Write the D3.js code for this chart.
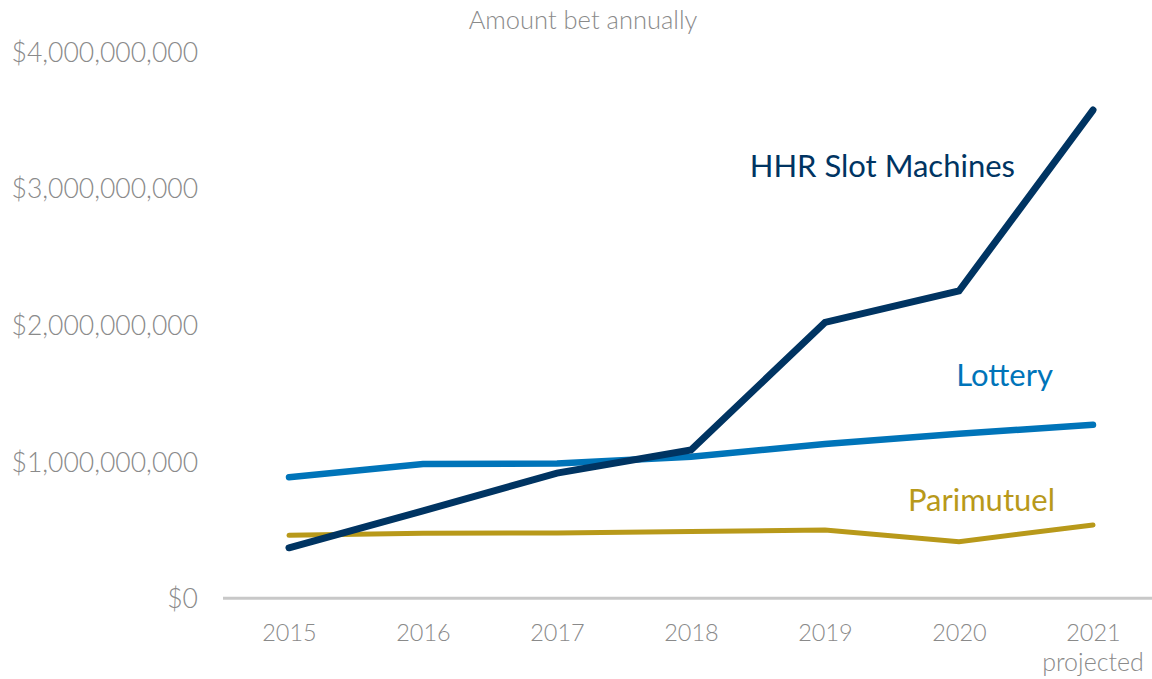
<!DOCTYPE html>
<html>
<head>
<meta charset="utf-8">
<script src="https://cdn.jsdelivr.net/npm/d3@7"></script>
<style>
  html, body { margin: 0; padding: 0; background: #fff; }
  svg text { font-family: "Lato", "Open Sans", sans-serif; font-weight: 300; }
  svg text.lbl { font-weight: 400; }
</style>
</head>
<body>
<div id="chart"></div>
<script>
// Données
const years = ["2015", "2016", "2017", "2018", "2019", "2020", "2021"];
const hhr = [0.37e9, 0.64e9, 0.917e9, 1.086e9, 2.02e9, 2.25e9, 3.575e9];
const lottery = [0.886e9, 0.983e9, 0.987e9, 1.037e9, 1.13e9, 1.205e9, 1.27e9];
const parimutuel = [0.461e9, 0.476e9, 0.478e9, 0.49e9, 0.5e9, 0.415e9, 0.536e9];
const yTicks = [0, 1e9, 2e9, 3e9, 4e9];

const series = [
  { name: "Parimutuel", values: parimutuel, color: "#b8991a", width: 5, lx: 1055, ly: 511 },
  { name: "Lottery", values: lottery, color: "#0074b9", width: 6.5, lx: 1053, ly: 386 },
  { name: "HHR Slot Machines", values: hhr, color: "#003462", width: 7, lx: 1015, ly: 177 }
];

const W = 1152, H = 679;
const svg = d3.select("#chart").append("svg")
  .attr("width", W).attr("height", H);

const x = d3.scalePoint().domain(years).range([289, 1093]);
const y = d3.scaleLinear().domain([0, 4e9]).range([598.3, 52]);

// axe Y (texte seulement)
const yAxis = svg.append("g")
  .attr("transform", "translate(198,0)")
  .call(d3.axisLeft(y).tickValues(yTicks).tickFormat(d3.format("$,.0f")).tickSize(0).tickPadding(0));
yAxis.select(".domain").remove();
yAxis.selectAll("text")
  .style("font-size", "26.5px")
  .attr("fill", "#8a8a8a")
  .attr("dy", "0.35em");

// ligne de base
svg.append("line")
  .attr("x1", 223).attr("x2", W)
  .attr("y1", y(0)).attr("y2", y(0))
  .attr("stroke", "#c8c8c8").attr("stroke-width", 3);

// axe X
const xAxis = svg.append("g")
  .attr("transform", `translate(0,${y(0)})`)
  .call(d3.axisBottom(x).tickSize(0).tickPadding(0));
xAxis.select(".domain").remove();
xAxis.selectAll("text")
  .style("font-size", "23.5px")
  .attr("fill", "#8a8a8a")
  .attr("y", 43)
  .attr("dy", 0);

svg.append("text")
  .attr("x", x("2021")).attr("y", 671)
  .attr("text-anchor", "middle")
  .attr("fill", "#8a8a8a")
  .style("font-size", "25px")
  .text("projected");

// titre
svg.append("text")
  .attr("x", 583).attr("y", 29)
  .attr("text-anchor", "middle")
  .attr("fill", "#8a8a8a")
  .style("font-size", "25.5px")
  .text("Amount bet annually");

const line = d3.line()
  .x((d, i) => x(years[i]))
  .y(d => y(d));

svg.selectAll(".serie")
  .data(series)
  .enter().append("path")
  .attr("class", "serie")
  .attr("d", d => line(d.values))
  .attr("fill", "none")
  .attr("stroke", d => d.color)
  .attr("stroke-width", d => d.width)
  .attr("stroke-linecap", "round")
  .attr("stroke-linejoin", "miter");

svg.selectAll(".lbl")
  .data(series)
  .enter().append("text")
  .attr("class", "lbl")
  .attr("x", d => d.lx).attr("y", d => d.ly)
  .attr("text-anchor", "end")
  .attr("fill", d => d.color)
  .style("font-size", "31px")
  .text(d => d.name);
</script>
</body>
</html>
